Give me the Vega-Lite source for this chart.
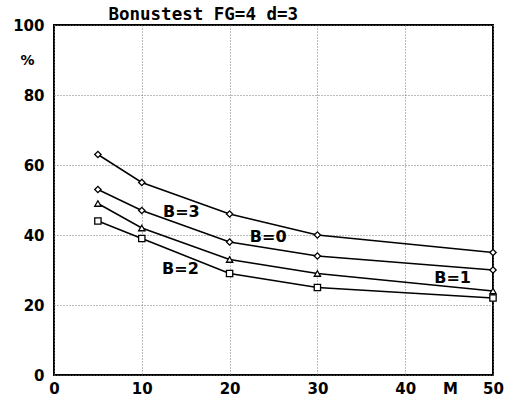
{
  "$schema": "https://vega.github.io/schema/vega-lite/v6.json",
  "width": 439,
  "height": 350,
  "autosize": {"type": "none"},
  "padding": {"left": 54, "top": 25, "right": 13, "bottom": 24},
  "background": "white",
  "config": {
    "view": {"stroke": "black", "strokeWidth": 2},
    "font": "DejaVu Sans"
  },
  "datasets": {
    "series": [
      {"B": "B=0", "M": 5, "pct": 63},
      {"B": "B=0", "M": 10, "pct": 55},
      {"B": "B=0", "M": 20, "pct": 46},
      {"B": "B=0", "M": 30, "pct": 40},
      {"B": "B=0", "M": 50, "pct": 35},
      {"B": "B=3", "M": 5, "pct": 53},
      {"B": "B=3", "M": 10, "pct": 47},
      {"B": "B=3", "M": 20, "pct": 38},
      {"B": "B=3", "M": 30, "pct": 34},
      {"B": "B=3", "M": 50, "pct": 30},
      {"B": "B=1", "M": 5, "pct": 49},
      {"B": "B=1", "M": 10, "pct": 42},
      {"B": "B=1", "M": 20, "pct": 33},
      {"B": "B=1", "M": 30, "pct": 29},
      {"B": "B=1", "M": 50, "pct": 24},
      {"B": "B=2", "M": 5, "pct": 44},
      {"B": "B=2", "M": 10, "pct": 39},
      {"B": "B=2", "M": 20, "pct": 29},
      {"B": "B=2", "M": 30, "pct": 25},
      {"B": "B=2", "M": 50, "pct": 22}
    ],
    "labels": [
      {"label": "B=0", "M": 24.4, "pct": 39.4},
      {"label": "B=3", "M": 14.5, "pct": 46.7},
      {"label": "B=2", "M": 14.4, "pct": 30.2},
      {"label": "B=1", "M": 45.4, "pct": 27.8}
    ],
    "title": [
      {"label": "Bonustest FG=4 d=3", "M": 17.0, "pct": 103}
    ]
  },
  "layer": [
    {
      "data": {"name": "series"},
      "mark": {"type": "line", "color": "black", "strokeWidth": 1.5},
      "encoding": {
        "x": {
          "field": "M", "type": "quantitative",
          "scale": {"domain": [0, 50], "nice": false},
          "axis": {
            "values": [0, 10, 20, 30, 40, 50],
            "domain": false, "ticks": false,
            "grid": true, "gridColor": "#777", "gridDash": [1, 2], "gridWidth": 1,
            "labelFont": "DejaVu Sans", "labelFontSize": 15, "labelFontWeight": "bold",
            "labelColor": "black", "labelPadding": 6, "labelFlush": false,
            "title": "M", "titleFont": "DejaVu Sans", "titleFontSize": 15, "titleFontWeight": "bold",
            "titleColor": "black", "titleX": 396, "titleY": 6, "titleAlign": "center",
            "titleBaseline": "top", "titleAnchor": null
          }
        },
        "y": {
          "field": "pct", "type": "quantitative",
          "scale": {"domain": [0, 100], "nice": false},
          "axis": {
            "values": [0, 20, 40, 60, 80, 100],
            "domain": false, "ticks": false,
            "grid": true, "gridColor": "#777", "gridDash": [1, 2], "gridWidth": 1,
            "labelFont": "DejaVu Sans", "labelFontSize": 15, "labelFontWeight": "bold",
            "labelColor": "black", "labelPadding": 10, "labelFlush": false,
            "title": "%", "titleFont": "DejaVu Sans", "titleFontSize": 14, "titleFontWeight": "bold",
            "titleColor": "black", "titleAngle": 0, "titleX": -27, "titleY": 35,
            "titleAlign": "center", "titleBaseline": "middle"
          }
        },
        "detail": {"field": "B"}
      }
    },
    {
      "data": {"name": "series"},
      "mark": {"type": "point", "filled": true, "fill": "white", "stroke": "black", "strokeWidth": 1.3, "opacity": 1},
      "encoding": {
        "x": {"field": "M", "type": "quantitative"},
        "y": {"field": "pct", "type": "quantitative"},
        "shape": {
          "field": "B", "type": "nominal", "legend": null,
          "scale": {"domain": ["B=0", "B=3", "B=1", "B=2"], "range": ["diamond", "diamond", "triangle-up", "square"]}
        },
        "size": {
          "field": "B", "type": "nominal", "legend": null,
          "scale": {"domain": ["B=0", "B=3", "B=1", "B=2"], "range": [40, 40, 45, 45]}
        }
      }
    },
    {
      "data": {"name": "labels"},
      "mark": {"type": "text", "font": "DejaVu Sans", "fontSize": 16, "fontWeight": "bold", "color": "black", "align": "center", "baseline": "middle"},
      "encoding": {
        "x": {"field": "M", "type": "quantitative"},
        "y": {"field": "pct", "type": "quantitative"},
        "text": {"field": "label"}
      }
    },
    {
      "data": {"name": "title"},
      "mark": {"type": "text", "font": "DejaVu Sans Mono", "fontSize": 17.5, "fontWeight": "bold", "color": "black", "align": "center", "baseline": "middle", "clip": false},
      "encoding": {
        "x": {"field": "M", "type": "quantitative"},
        "y": {"field": "pct", "type": "quantitative"},
        "text": {"field": "label"}
      }
    }
  ]
}
